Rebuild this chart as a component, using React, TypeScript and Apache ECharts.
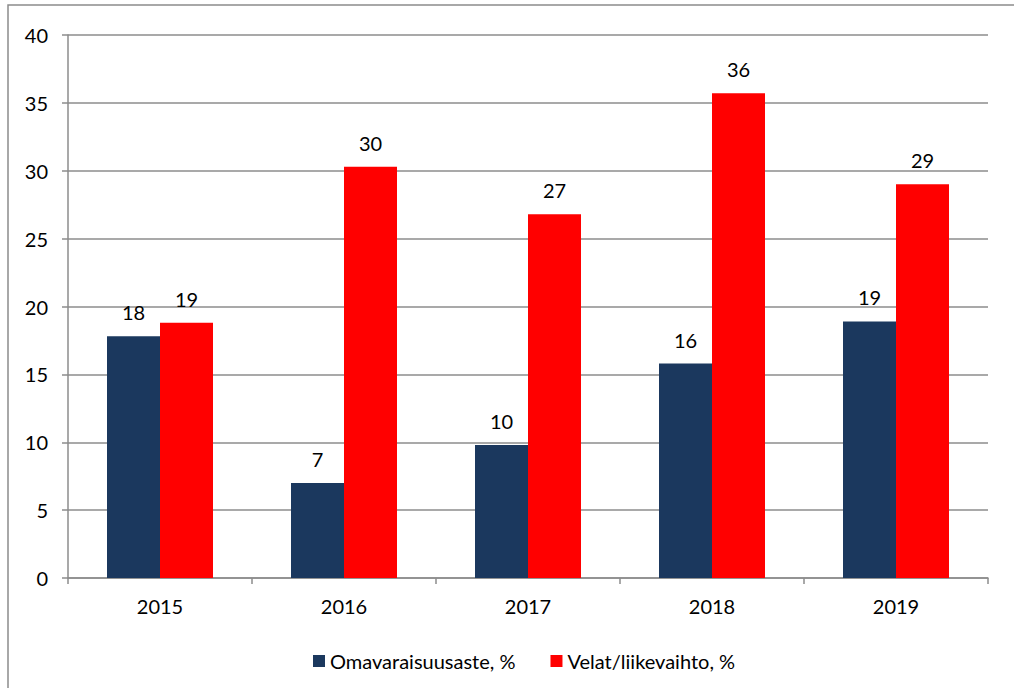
import React, { useEffect, useRef } from "react";
import * as echarts from "echarts";

const categories = ["2015", "2016", "2017", "2018", "2019"];
const omavaraisuusaste = [17.8, 7.0, 9.8, 15.8, 18.9];
const velatLiikevaihto = [18.8, 30.3, 26.8, 35.7, 29.0];
const seriesNames = ["Omavaraisuusaste, %", "Velat/liikevaihto, %"];

const FONT = "Lato, 'Open Sans', sans-serif";
const FS = 20;
const GRAY = "#8c8c8c";

export default function App() {
  const ref = useRef<HTMLDivElement>(null);
  useEffect(() => {
    if (!ref.current) return;
    const chart = echarts.init(ref.current, undefined, { renderer: "svg" });
    const label = {
      show: true,
      position: "top" as const,
      distance: 14,
      color: "#000",
      fontSize: FS,
      fontFamily: FONT,
      formatter: (p: any) => String(Math.round(p.value)),
    };
    chart.setOption({
      animation: false,
      backgroundColor: "#fff",
      graphic: [
        {
          type: "rect",
          shape: { x: 8, y: 5, width: 1100, height: 800 },
          style: { fill: "none", stroke: GRAY, lineWidth: 1.5 },
          silent: true,
          z: -10,
        },
      ],
      grid: { left: 68, right: 26, top: 35, bottom: 110 },
      legend: {
        top: 646,
        left: 308,
        itemWidth: 12,
        itemHeight: 12,
        itemGap: 35,
        icon: "rect",
        textStyle: { fontSize: FS, fontFamily: FONT, color: "#000" },
        data: seriesNames,
      },
      xAxis: {
        type: "category",
        data: categories,
        axisLine: { lineStyle: { color: GRAY, width: 1.5 } },
        axisTick: { show: true, length: 6, lineStyle: { color: GRAY, width: 1.5 } },
        axisLabel: { fontSize: FS, fontFamily: FONT, color: "#000", margin: 18 },
      },
      yAxis: {
        type: "value",
        min: 0,
        max: 40,
        interval: 5,
        axisLine: { show: true, lineStyle: { color: GRAY, width: 1.5 } },
        axisTick: { show: true, length: 6, lineStyle: { color: GRAY, width: 1.5 } },
        axisLabel: { fontSize: FS, fontFamily: FONT, color: "#000", margin: 20 },
        splitLine: { lineStyle: { color: GRAY, width: 1.5 } },
      },
      series: [
        {
          name: seriesNames[0],
          type: "bar",
          data: omavaraisuusaste,
          barWidth: 53,
          barGap: "0%",
          itemStyle: { color: "#1B385E" },
          label,
        },
        {
          name: seriesNames[1],
          type: "bar",
          data: velatLiikevaihto,
          barWidth: 53,
          barGap: "0%",
          itemStyle: { color: "#FF0000" },
          label,
        },
      ],
    });
    return () => chart.dispose();
  }, []);
  return (
    <div
      ref={ref}
      style={{ position: "fixed", left: 0, top: 0, width: 1014, height: 688 }}
    />
  );
}
